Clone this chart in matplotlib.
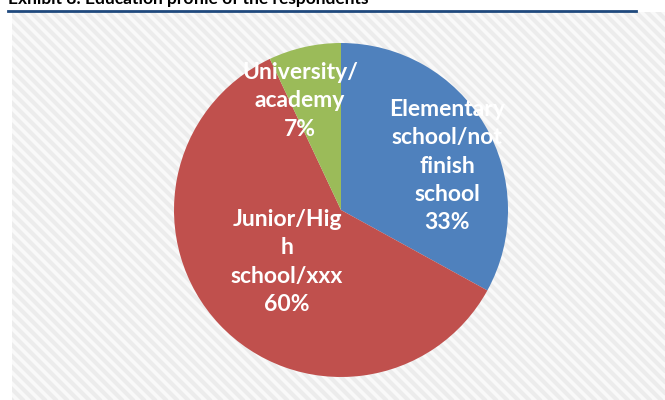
import numpy as np
import matplotlib.pyplot as plt
from matplotlib.collections import LineCollection

# education profile shares
categories = ["Elementary\nschool/not\nfinish\nschool", "Junior/Hig\nh\nschool/xxx", "University/\nacademy"]
shares = [33, 60, 7]
colors = ["#4f81bd", "#c0504d", "#9bbb59"]
title = "Exhibit 8: Education profile of the respondents"

W, H = 665, 400
fig = plt.figure(figsize=(W / 100, H / 100), dpi=100)
fig.patch.set_facecolor("white")

# striped chart area background
bg = fig.add_axes([12 / W, 0, (W - 12) / W, (H - 12) / H])
bw, bh = W - 12, H - 12
bg.set_xlim(0, bw)
bg.set_ylim(0, bh)
bg.axis("off")
bg.add_patch(plt.Rectangle((0, 0), bw, bh, color="#f9f9f9", zorder=0))
segs = []
for c in np.arange(0, bw + bh + 20, 11):
    segs.append([(c - bh - 10, bh + 10), (c + 10, -10)])
bg.add_collection(LineCollection(segs, colors="#ececec", linewidths=3.0, zorder=1))

# header rule and clipped title
fig.add_artist(plt.Line2D([8 / W, 636 / W], [1 - 11 / H, 1 - 11 / H],
                          color="#1f497d", lw=2.0))
fig.text(8 / W, 1 - 4 / H, title, fontsize=12.5, fontweight="bold",
         family=["Lato", "DejaVu Sans"], color="black", va="baseline", ha="left")

# pie
cx, cy, r = 341, 210, 167
ax = fig.add_axes([(cx - r) / W, (H - cy - r) / H, 2 * r / W, 2 * r / H])
wedges, _ = ax.pie(shares, colors=colors, startangle=90, counterclock=False,
                   radius=1.0, wedgeprops=dict(linewidth=0))
ax.set_xlim(-1, 1)
ax.set_ylim(-1, 1)
ax.set_aspect("equal")
ax.axis("off")

label_pos = [(0.635, 0.263), (-0.323, -0.311), (-0.245, 0.653)]
for name, val, (x, y) in zip(categories, shares, label_pos):
    ax.text(x, y, f"{name}\n{val}%", ha="center", va="center", color="white",
            fontsize=16.5, fontweight="bold", linespacing=1.42,
            family=["Lato", "DejaVu Sans"])

fig.savefig("out.png", dpi=100)
